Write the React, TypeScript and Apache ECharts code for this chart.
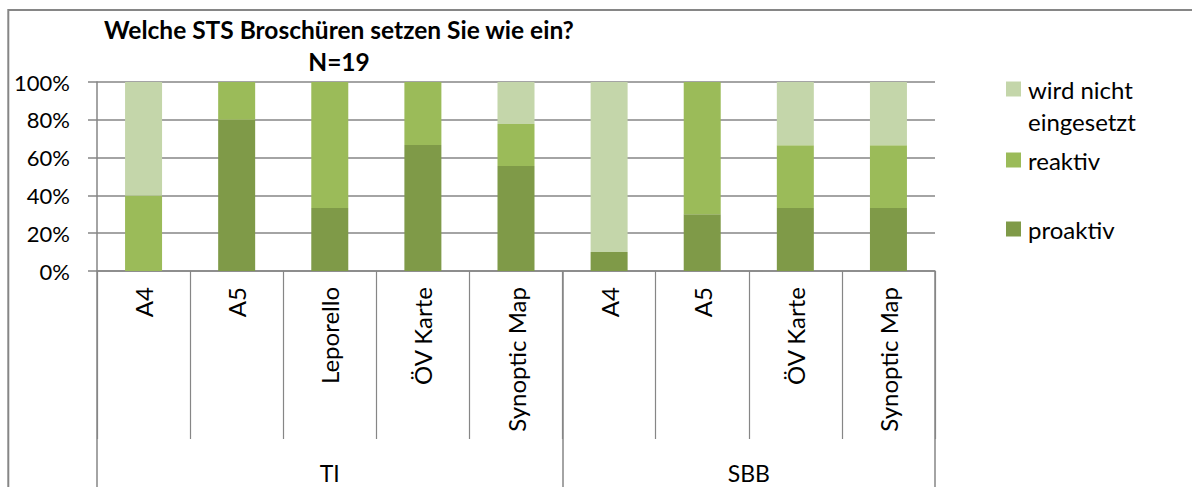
import React, { useEffect, useRef } from "react";
import * as echarts from "echarts";

const categories = ["A4", "A5", "Leporello", "ÖV Karte", "Synoptic Map", "A4", "A5", "ÖV Karte", "Synoptic Map"];
const groups = ["TI", "SBB"];
const groupSizes = [5, 4];
const proaktiv = [0, 80, 33.3, 66.7, 55.6, 10, 30, 33.3, 33.3];
const reaktiv = [40, 20, 66.7, 33.3, 22.2, 0, 70, 33.3, 33.3];
const nichtEingesetzt = [60, 0, 0, 0, 22.2, 90, 0, 33.4, 33.4];
const seriesNames = ["proaktiv", "reaktiv", "wird nicht eingesetzt"];
const colors = ["#7F9A48", "#9BBB59", "#C4D6AA"];
const yTicks = [0, 20, 40, 60, 80, 100];

const FONT = "Lato";
const GRAY = "#868686";

export default function App() {
  const ref = useRef<HTMLDivElement>(null);
  useEffect(() => {
    document.body.style.margin = "0";
    document.body.style.overflow = "hidden";
    const chart = echarts.init(ref.current!, null, { renderer: "svg" });

    const boundaries: number[] = [0];
    const centers: number[] = [];
    let acc = 0;
    groupSizes.forEach((n) => {
      centers.push(acc + n / 2);
      acc += n;
      boundaries.push(acc);
    });

    const legendTops = [41, 144, 213];
    const legendOrder = [2, 1, 0];

    chart.setOption({
      animation: false,
      textStyle: { fontFamily: FONT },
      title: {
        text: "Welche STS Broschüren setzen Sie wie ein?\nN=19",
        left: 339,
        top: 13,
        textAlign: "center",
        padding: 0,
        textStyle: { fontFamily: FONT, fontWeight: "bold", fontSize: 24.5, lineHeight: 32, color: "#000" },
      },
      legend: legendOrder.map((si, i) => ({
        data: [seriesNames[si]],
        orient: "vertical",
        left: 1006,
        top: legendTops[i],
        padding: 0,
        itemWidth: 15,
        itemHeight: 15,
        icon: "rect",
        selectedMode: false,
        formatter: (n: string) => (n === "wird nicht eingesetzt" ? "\nwird nicht\neingesetzt" : n),
        textStyle: {
          fontFamily: FONT,
          fontSize: 24,
          color: "#000",
          lineHeight: 32,
          padding: [0, 0, 0, 2],
        },
      })),
      grid: { left: 97, top: 82, right: 257, bottom: 216 },
      graphic: [
        {
          type: "rect",
          shape: { x: 8.3, y: 10, width: 3000, height: 3000 },
          style: { fill: "none", stroke: GRAY, lineWidth: 2 },
          silent: true,
        },
      ],
      xAxis: [
        {
          type: "category",
          data: categories,
          axisLine: { show: true, lineStyle: { color: GRAY, width: 1.5 } },
          axisTick: { show: true, interval: 0, length: 168, lineStyle: { color: GRAY, width: 1.2 } },
          axisLabel: { interval: 0, rotate: 90, margin: 16, fontSize: 24, color: "#000", fontFamily: FONT },
        },
        {
          type: "value",
          position: "bottom",
          min: 0,
          max: categories.length,
          axisLine: { show: false },
          splitLine: { show: false },
          axisTick: { show: true, customValues: boundaries, length: 240, lineStyle: { color: GRAY, width: 1.5 } },
          axisLabel: {
            customValues: centers,
            margin: 190,
            fontSize: 23,
            color: "#000",
            fontFamily: FONT,
            formatter: (v: number) => groups[centers.indexOf(v)] ?? "",
          },
        },
      ],
      yAxis: {
        type: "value",
        min: 0,
        max: 100,
        interval: 20,
        axisLine: { show: true, lineStyle: { color: GRAY, width: 1.5 } },
        axisTick: { show: true, length: 9, lineStyle: { color: GRAY, width: 1.5 } },
        splitLine: { show: true, lineStyle: { color: GRAY, width: 1.5 } },
        axisLabel: {
          margin: 27,
          fontSize: 22,
          color: "#000",
          fontFamily: FONT,
          customValues: yTicks,
          formatter: (v: number) => `${v}%`,
        },
      },
      series: [proaktiv, reaktiv, nichtEingesetzt].map((d, i) => ({
        name: seriesNames[i],
        type: "bar",
        stack: "total",
        data: d,
        barWidth: 37,
        itemStyle: { color: colors[i] },
        xAxisIndex: 0,
      })),
    });
    return () => chart.dispose();
  }, []);
  return <div ref={ref} style={{ width: 1192, height: 487 }} />;
}
